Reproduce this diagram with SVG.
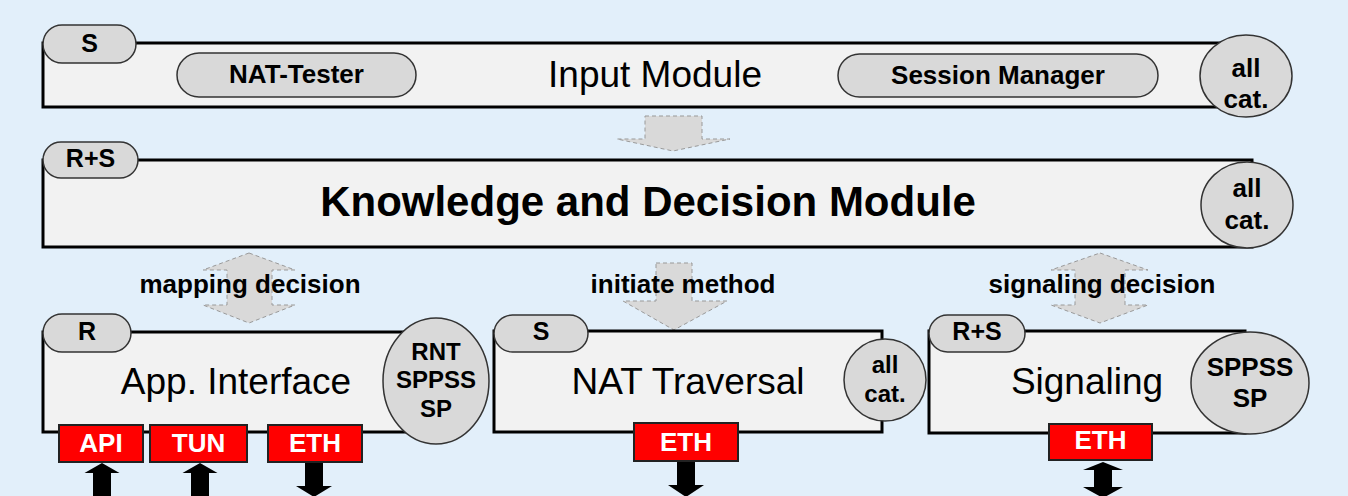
<svg xmlns="http://www.w3.org/2000/svg" width="1348" height="496" viewBox="0 0 1348 496">
<style>
.box{fill:#F2F2F2;stroke:#000;stroke-width:3}
.tab{fill:#D9D9D9;stroke:#333;stroke-width:1.5}
.pill{fill:#D9D9D9;stroke:#333;stroke-width:1.5}
.cat{fill:#D9D9D9;stroke:#333;stroke-width:1.5}
.red{fill:#FF0000;stroke:#222;stroke-width:2}
.garrow{fill:#D9D9D9;stroke:#999;stroke-width:1;stroke-dasharray:4 3}
.barrow{fill:#000}
text{font-family:"Liberation Sans",Arial,sans-serif;text-anchor:middle;fill:#000}
.b{font-weight:bold}
.t25{font-size:25px}
.t26{font-size:26px}
.t24{font-size:24px}
.title{font-size:37px}
.w{fill:#fff}
</style>
<rect width="1348" height="496" fill="#E2EFFA"/>

<g id="connectors">
  <path class="garrow" d="M645,116 H702 V139 H730 L673,151 L617,139 H645 Z"/>
  <path class="garrow" d="M249,253 L295,270 H272 V305 H295 L249,323 L203,305 H227 V270 H203 Z"/>
  <path class="garrow" d="M656,263 H692 V301 H727 L674,330 L623,301 H656 Z"/>
  <path class="garrow" d="M1100,253 L1148,270 H1125 V305 H1148 L1100,323 L1051,305 H1075 V270 H1051 Z"/>
  <text class="b t26" x="250" y="293">mapping decision</text>
  <text class="b t26" x="683" y="293">initiate method</text>
  <text class="b t26" x="1102" y="293">signaling decision</text>
  <path class="barrow" d="M102,463 L119.5,473 H111 V496 H93 V473 H84.5 Z"/>
  <path class="barrow" d="M200,463 L217.5,473 H209 V496 H191 V473 H182.5 Z"/>
  <path class="barrow" d="M305,463 H323 V486 H332 L314,497 L296,486 H305 Z"/>
  <path class="barrow" d="M677,462 H695 V485 H704 L686,497 L668,485 H677 Z"/>
  <path class="barrow" d="M1103,462 L1123,470 H1112 V487 H1123 L1103,498 L1083,487 H1094 V470 H1083 Z"/>
</g>

<g id="input-module">
  <rect class="box" x="43" y="43" width="1209" height="64"/>
  <rect class="tab" x="43" y="25" width="93" height="38" rx="19"/>
  <text class="b t25" x="89.5" y="52">S</text>
  <rect class="pill" x="177" y="53" width="239" height="44" rx="22"/>
  <text class="b t26" x="296.5" y="83">NAT-Tester</text>
  <text class="title" x="655" y="87">Input Module</text>
  <rect class="pill" x="838" y="54" width="320" height="43" rx="21.5"/>
  <text class="b t26" x="998" y="84">Session Manager</text>
  <ellipse class="cat" cx="1246" cy="76" rx="46" ry="41"/>
  <text class="b t26" x="1246" y="77">all</text>
  <text class="b t26" x="1246" y="108">cat.</text>
</g>

<g id="knowledge-decision-module">
  <rect class="box" x="43" y="160" width="1209" height="87"/>
  <rect class="tab" x="43" y="142" width="95" height="36" rx="18"/>
  <text class="b t25" x="90.5" y="167">R+S</text>
  <text class="b" style="font-size:42px" x="648" y="216">Knowledge and Decision Module</text>
  <ellipse class="cat" cx="1247" cy="205" rx="46" ry="43"/>
  <text class="b t26" x="1247" y="197">all</text>
  <text class="b t26" x="1247" y="229">cat.</text>
</g>

<g id="app-interface">
  <rect class="box" x="43" y="332" width="419" height="100"/>
  <rect class="tab" x="43" y="314" width="88" height="38" rx="19"/>
  <text class="b t25" x="87" y="340">R</text>
  <text class="title" x="236" y="394">App. Interface</text>
  <ellipse class="cat" cx="436" cy="381" rx="53" ry="63"/>
  <text class="b t24" x="436" y="360">RNT</text>
  <text class="b t24" x="436" y="388">SPPSS</text>
  <text class="b t24" x="436" y="417">SP</text>
  <rect class="red" x="59" y="425" width="84" height="37"/>
  <text class="b t26 w" x="101" y="452">API</text>
  <rect class="red" x="150" y="425" width="97" height="37"/>
  <text class="b t26 w" x="198.5" y="452">TUN</text>
  <rect class="red" x="268" y="425" width="94" height="37"/>
  <text class="b t26 w" x="315" y="452">ETH</text>
</g>

<g id="nat-traversal">
  <rect class="box" x="494" y="331" width="388" height="101"/>
  <rect class="tab" x="494" y="315" width="94" height="37" rx="18.5"/>
  <text class="b t25" x="541" y="340">S</text>
  <text class="title" x="688" y="394">NAT Traversal</text>
  <ellipse class="cat" cx="885" cy="380" rx="41" ry="41"/>
  <text class="b t24" x="885" y="373">all</text>
  <text class="b t24" x="885" y="402">cat.</text>
  <rect class="red" x="634" y="423" width="104" height="38"/>
  <text class="b t26 w" x="686" y="451">ETH</text>
</g>

<g id="signaling">
  <rect class="box" x="929" y="331" width="316" height="102"/>
  <rect class="tab" x="929" y="315" width="96" height="37" rx="18.5"/>
  <text class="b t25" x="977" y="340">R+S</text>
  <text class="title" x="1087" y="394">Signaling</text>
  <ellipse class="cat" cx="1250" cy="383" rx="59" ry="51"/>
  <text class="b t26" x="1250" y="376">SPPSS</text>
  <text class="b t26" x="1250" y="407">SP</text>
  <rect class="red" x="1049" y="424" width="103" height="36"/>
  <text class="b t26 w" x="1100.5" y="449">ETH</text>
</g>
</svg>
